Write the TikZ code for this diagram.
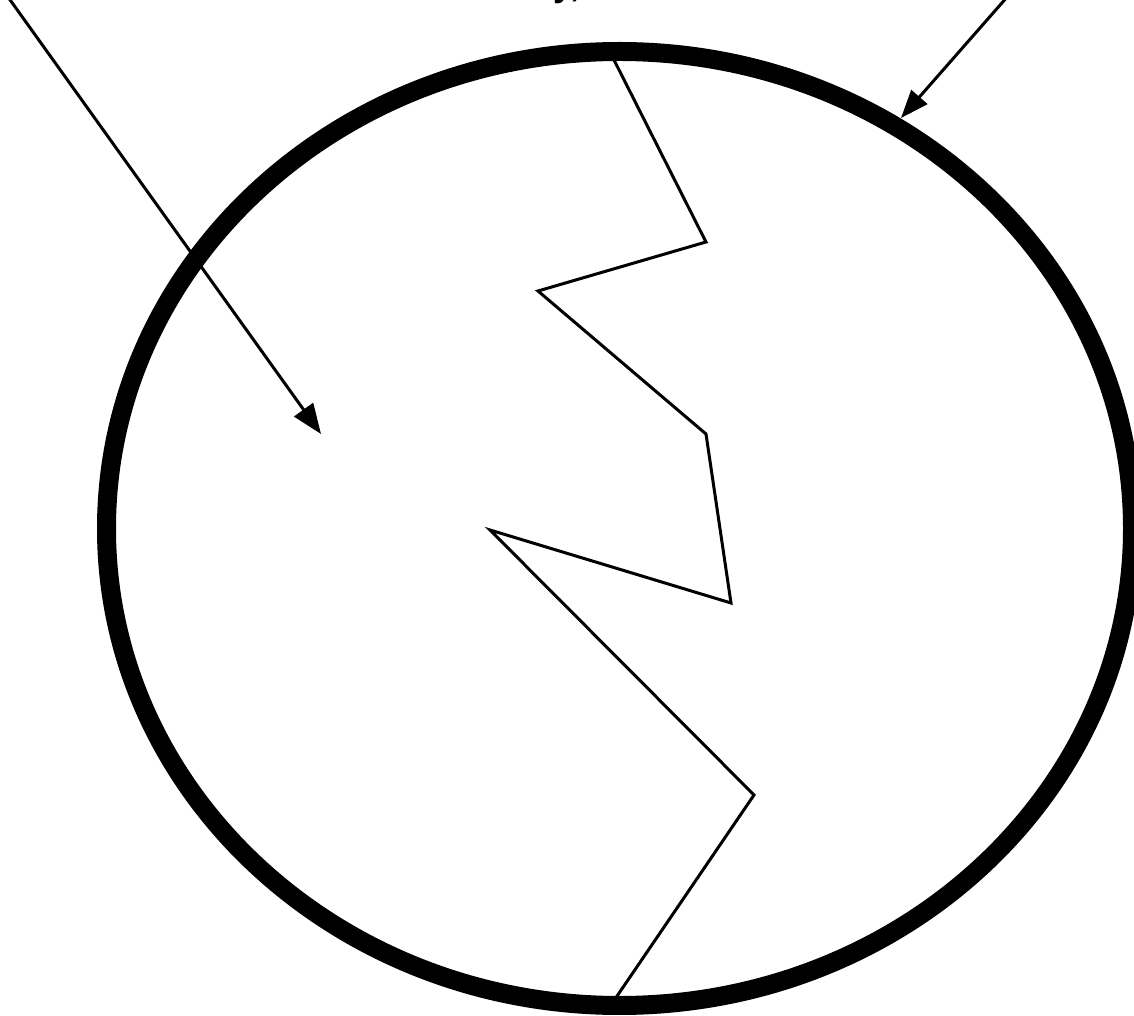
\documentclass[tikz,border=0pt]{standalone}
\usepackage{fontspec}
\setmainfont{Liberation Sans}
\usetikzlibrary{arrows.meta}
\begin{document}
\begin{tikzpicture}[x=0.02cm,y=-0.02cm,
  rim/.style={line width=0.38cm},
  zig/.style={line width=0.06cm, line join=miter},
  ray/.style={line width=0.06cm}]
\useasboundingbox (0,0) rectangle (1134,1016);
% outer ellipse
\draw[rim] (619.5,528.5) ellipse [x radius=513*0.02cm, y radius=477*0.02cm];
% zigzag
\coordinate (z0) at (613,58);
\coordinate (z1) at (706,242);
\coordinate (z2) at (538,291);
\coordinate (z3) at (706,434);
\coordinate (z4) at (731,603);
\coordinate (z5) at (490,530);
\coordinate (z6) at (754,795);
\coordinate (z7) at (613,1002);
\draw[zig] (z0) -- (z1) -- (z2) -- (z3) -- (z4) -- (z5) -- (z6) -- (z7);
% arrows
\coordinate (a1s) at (8,-3);
\coordinate (a1e) at (321,434);
\draw[ray, -{Triangle[length=0.6cm,width=0.46cm]}] (a1s) -- (a1e);
\coordinate (a2s) at (1008,-4);
\coordinate (a2e) at (901,118);
\draw[ray, -{Triangle[length=0.56cm,width=0.42cm]}] (a2s) -- (a2e);
% clipped text fragment at top
\node[anchor=base west, inner sep=0pt, font=\bfseries\fontsize{20}{24}\selectfont] (frag) at (553,-3.5) {y,};
\end{tikzpicture}
\end{document}
